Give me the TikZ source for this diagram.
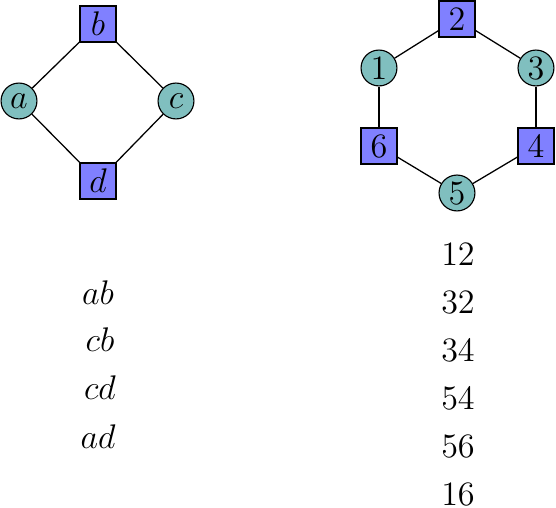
\documentclass[tikz,border=0pt]{standalone}
\usetikzlibrary{shapes.geometric}
\definecolor{sqfill}{RGB}{128,128,255}
\definecolor{cifill}{RGB}{128,191,191}
\begin{document}
\begin{tikzpicture}[x=0.351pt,y=-0.351pt,
  sqnode/.style={draw,fill=sqfill,rectangle,minimum size=12.6pt,inner sep=0pt,font=\large},
  cinode/.style={draw,fill=cifill,circle,minimum size=12.6pt,inner sep=0pt,font=\large},
  txt/.style={inner sep=0pt,font=\fontsize{11.5}{14}\selectfont},
  edge/.style={draw,line width=0.45pt}]
\useasboundingbox (0,0) rectangle (556,508);
% left graph
\node[sqnode] (b) at (98,24) {$b$};
\node[cinode] (a) at (19,101) {$a$};
\node[cinode] (c) at (176,101) {$c$};
\node[sqnode] (d) at (98,181) {$d$};
\draw[edge] (a) -- (b);
\draw[edge] (b) -- (c);
\draw[edge] (c) -- (d);
\draw[edge] (d) -- (a);
% right graph
\node[sqnode] (n2) at (457,19) {$2$};
\node[cinode] (n1) at (379,68) {$1$};
\node[cinode] (n3) at (536,68) {$3$};
\node[sqnode] (n6) at (379,146) {$6$};
\node[sqnode] (n4) at (536,146) {$4$};
\node[cinode] (n5) at (457,193) {$5$};
\draw[edge] (n1) -- (n2);
\draw[edge] (n2) -- (n3);
\draw[edge] (n3) -- (n4);
\draw[edge] (n4) -- (n5);
\draw[edge] (n5) -- (n6);
\draw[edge] (n6) -- (n1);
% left text
\node[txt] (t1) at (98,293) {$ab$};
\node[txt] (t2) at (100,340) {$cb$};
\node[txt] (t3) at (100,388) {$cd$};
\node[txt] (t4) at (98,437) {$ad$};
% right text
\node[txt] (r1) at (458,254) {$12$};
\node[txt] (r2) at (458,302) {$32$};
\node[txt] (r3) at (458,350) {$34$};
\node[txt] (r4) at (458,398) {$54$};
\node[txt] (r5) at (458,446) {$56$};
\node[txt] (r6) at (458,494) {$16$};
\end{tikzpicture}
\end{document}
